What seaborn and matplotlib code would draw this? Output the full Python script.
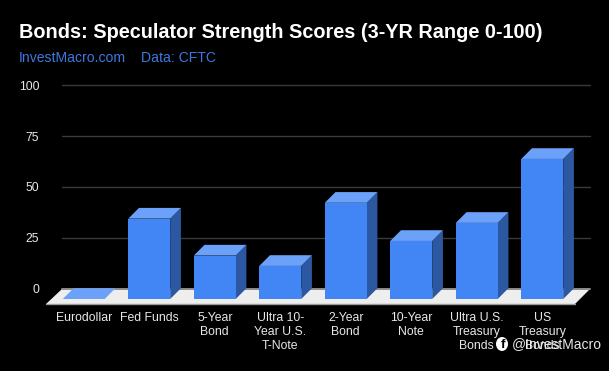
#!/usr/bin/env python3
# -*- coding: utf-8 -*-

import pandas as pd
import matplotlib
matplotlib.use("Agg")
import matplotlib.pyplot as plt
import seaborn as sns
from matplotlib.patches import Polygon, Ellipse

contracts = ['Eurodollar', 'Fed Funds', '5-Year\nBond', 'Ultra 10-\nYear U.S.\nT-Note', '2-Year\nBond',
             '10-Year\nNote', 'Ultra U.S.\nTreasury\nBonds', 'US\nTreasury\nBonds']
scores = [0, 39.6, 21.4, 16.3, 47.4, 28.6, 37.5, 69]
yticks = [0, 25, 50, 75, 100]

W, H = 609, 371
PX_X = 65.5     # px per category
PX_Y = 2.027    # px per score unit
DX = 10.7 / PX_X    # bar depth in data units
DY = 10.7 / PX_Y

FRONT = '#4285f4'
TOP = '#6ba1f8'
SIDE = '#2c58a2'

if __name__ == '__main__':
    sns.set_style("dark")
    plt.rcParams['font.family'] = ['Liberation Sans', 'DejaVu Sans']

    df = pd.DataFrame({'contract': contracts, 'score': scores})

    fig = plt.figure(figsize=(W / 100, H / 100), dpi=100, facecolor='black')
    # axes bottom is the front plane of the bars
    ax = fig.add_axes([51 / W, (H - 299) / H, 8 * PX_X / W, (299 - 85.3) / H])
    ax.set_facecolor('black')

    sns.barplot(data=df, x='contract', y='score', color=FRONT, saturation=1, width=0.64, ax=ax, zorder=5,
                linewidth=0, edgecolor='none')
    ax.set_xlim(-0.5, 7.5)
    ax.set_ylim(0, 100 + DY)
    sns.despine(ax=ax, left=True, bottom=True)
    ax.grid(False)
    ax.set_xlabel('')
    ax.set_ylabel('')

    #Gridlines sit on the back wall
    grid_l, grid_r = -0.5 + 11 / PX_X, 7.5 + 15 / PX_X
    for v in yticks[1:]:
        ax.plot([grid_l, grid_r], [v + DY, v + DY], color='#3a3a3a', lw=1, zorder=1, clip_on=False)

    #Floor
    floor_front = -5 / PX_Y
    floor_back = DY - 0.35
    floor = [(-0.5 - 5 / PX_X, floor_front), (7.5, floor_front), (grid_r, floor_back), (grid_l, floor_back)]
    ax.add_patch(Polygon(floor, closed=True, fc='#eeeeee', ec='none', zorder=2, clip_on=False))
    ax.plot([grid_l, grid_r], [floor_back, floor_back], color='#8c8c8c', lw=1.4, zorder=3, clip_on=False)
    ax.plot([floor[0][0], floor[1][0]], [floor_front, floor_front], color='#9a9a9a', lw=1, zorder=3, clip_on=False)

    #3D faces of the bars
    for bar in ax.containers[0]:
        x0 = bar.get_x()
        x1 = x0 + bar.get_width()
        h = bar.get_height()
        ax.add_patch(Polygon([(x1, 0), (x1 + DX, DY), (x1 + DX, h + DY), (x1, h)], closed=True,
                             fc=SIDE, ec='none', zorder=4, clip_on=False))
        ax.add_patch(Polygon([(x0, h), (x1, h), (x1 + DX, h + DY), (x0 + DX, h + DY)], closed=True,
                             fc=TOP, ec='none', zorder=6, clip_on=False))

    ax.set_yticks([v + DY for v in yticks])
    ax.set_yticklabels([str(v) for v in yticks], color='#e8e8e8', fontsize=8.8)
    ax.set_xticks(range(len(contracts)))
    ax.set_xticklabels(contracts, color='#e8e8e8', fontsize=8.8, linespacing=1.22)
    ax.tick_params(axis='y', length=0, pad=8.5)
    ax.tick_params(axis='x', length=0, pad=9.2)

    #Title block
    fig.text(19 / W, 1 - 32 / H, 'Bonds: Speculator Strength Scores (3-YR Range 0-100)', color='white',
             fontsize=14.3, fontweight='bold', va='center', ha='left')
    fig.text(19 / W, 1 - 58 / H, 'InvestMacro.com', color='#3d78e0', fontsize=10.1, va='center', ha='left')
    fig.text(141 / W, 1 - 58 / H, 'Data: CFTC', color='#3d78e0', fontsize=10.1, va='center', ha='left')

    #Watermark
    fig.add_artist(Ellipse((502 / W, 1 - 344 / H), 12 / W, 14 / H, transform=fig.transFigure, fc='white', ec='none'))
    fig.text(502.5 / W, 1 - 345 / H, 'f', color='black', fontsize=9.5, fontweight='bold', va='center', ha='center')
    fig.text(512 / W, 1 - 344 / H, '@InvestMacro', color='#e8e8e8', fontsize=10, va='center', ha='left')

    fig.savefig('out.png', dpi=100, facecolor='black')
